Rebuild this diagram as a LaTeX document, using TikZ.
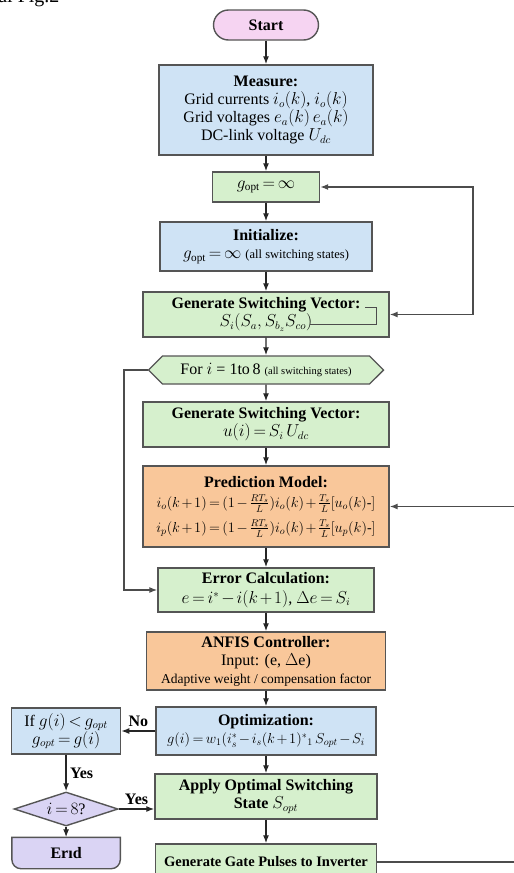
\documentclass[tikz,border=0pt]{standalone}
\usepackage{amsmath}
\usepackage{fontspec}
\setmainfont{Liberation Serif}
\usetikzlibrary{arrows.meta,backgrounds,positioning,shapes.geometric,shapes.symbols}
\definecolor{fcblue}{RGB}{207,227,245}
\definecolor{fcgreen}{RGB}{214,240,205}
\definecolor{fcorange}{RGB}{249,199,154}
\definecolor{fcpink}{RGB}{246,212,242}
\definecolor{fcviolet}{RGB}{218,212,244}
\definecolor{fcline}{RGB}{85,85,85}
\AtBeginDocument{\medmuskip=2mu plus 1mu\thickmuskip=3mu plus 2mu}

\begin{document}
\begin{tikzpicture}[x=1pt,y=1pt,>={Latex[length=8pt,width=6pt]},
    font=\fontsize{16}{18}\selectfont,
    box/.style={draw=fcline,line width=1.4pt,align=center,inner sep=2pt},
    flow/.style={->,line width=1.3pt,draw=black!85},
    loopline/.style={line width=1.3pt,draw=black!70}]
  \useasboundingbox (0,0) rectangle (514,-873);
  \coordinate (rim) at (514,0);
  \coordinate (rp) at (473,0);
  \coordinate (lp) at (124,0);
  \node[anchor=base east,font=\fontsize{20}{24}\selectfont] (figref) at (63,-2) {al Fig.2};
  % main column
  \node[box,fill=fcpink,rounded corners=15pt,minimum width=105pt,minimum height=30pt] (start) at (266,-25) {\textbf{Start}};
  \node[box,fill=fcblue,minimum width=214pt,minimum height=90pt,below=23.6pt of start] (measure)
    {\textbf{Measure:}\\Grid currents $i_o(k)$, $i_o(k)$\\Grid voltages $e_a(k)\,e_a(k)$\\DC-link voltage $U_{dc}$};
  \node[box,fill=fcgreen,minimum width=107pt,minimum height=30pt,below=15.6pt of measure] (gopt) {$g_{\mathrm{opt}}=\infty$};
  \node[box,fill=fcblue,minimum width=212pt,minimum height=49pt,below=18.6pt of gopt] (init)
    {\textbf{Initialize:}\\$g_{\mathrm{opt}}=\infty$ {\fontsize{12.5}{14}\selectfont (all switching states)}};
  \node[box,fill=fcgreen,minimum width=246pt,minimum height=45pt,below=19.6pt of init] (gsv)
    {\textbf{Generate Switching Vector:}\\$S_i(S_a,S_{b_z}S_{co})$};
  \node[box,fill=fcgreen,signal,signal to=east and west,minimum width=235pt,minimum height=28pt,below=17.6pt of gsv] (hex)
    {For $i$ = 1to\,8 {\fontsize{10.5}{12}\selectfont (all switching states)}};
  \node[box,fill=fcgreen,minimum width=246pt,minimum height=45pt,below=16.6pt of hex] (gsv2)
    {\textbf{Generate Switching Vector:}\\$u(i)=S_i\,U_{dc}$};
  \node[box,fill=fcorange,minimum width=246pt,minimum height=81pt,below=17.6pt of gsv2] (pred)
    {\textbf{Prediction Model:}\\[2pt]
     {\fontsize{14}{16}\selectfont $i_o(k+1)=(1-\frac{RT_s}{L})i_o(k)+\frac{T_s}{L}[u_o(k)\mbox{-}]$}\\[7pt]
     {\fontsize{14}{16}\selectfont $i_p(k+1)=(1-\frac{RT_s}{L})i_o(k)+\frac{T_s}{L}[u_p(k)\mbox{-}]$}};
  \node[box,fill=fcgreen,minimum width=216pt,minimum height=44pt,below=19.6pt of pred] (err)
    {\textbf{Error Calculation:}\\[2pt]$e=i^{*}-i(k+1)$, $\Delta e=S_i$};
  \node[box,fill=fcorange,minimum width=239pt,minimum height=58pt,below=18.6pt of err] (anfis)
    {\textbf{ANFIS Controller:}\\Input: (e, $\Delta$e)\\{\fontsize{13.5}{16}\selectfont Adaptive weight / compensation factor}};
  \node[box,fill=fcblue,minimum width=220pt,minimum height=48pt,below=15.6pt of anfis] (opt)
    {\textbf{Optimization:}\\{\fontsize{14}{16}\selectfont $g(i)=w_1(i_s^{*}-i_s(k+1)^{*}{}_1\,S_{opt}-S_i$}};
  \node[box,fill=fcgreen,minimum width=222pt,minimum height=45pt,below=17.6pt of opt] (apply)
    {\textbf{Apply Optimal Switching}\\\textbf{State} $S_{opt}$};
  \node[box,fill=fcgreen,minimum width=221pt,minimum height=36pt,below=23.6pt of apply] (gate)
    {\fontsize{14.5}{16}\selectfont\bfseries Generate Gate Pulses to Inverter};
  % left branch
  \node[box,fill=fcblue,minimum width=109pt,minimum height=46pt,left=34pt of opt] (ifb)
    {If $g(i)<g_{opt}$\\$g_{opt}=g(i)$};
  \node[box,fill=fcviolet,diamond,aspect=3,minimum width=104pt,minimum height=34pt,below=36.6pt of ifb] (dec) {$i=8$?};
  \node[align=center,minimum width=108pt,minimum height=31pt,below=10.6pt of dec] (endb) {\textbf{Erıd}};
  \begin{scope}[on background layer]
    \draw[draw=fcline,fill=fcviolet,line width=1.4pt] (endb.north west) -- (endb.north east)
      -- ([yshift=9pt]endb.south east) arc[start angle=0,end angle=-90,radius=9pt]
      -- ([xshift=9pt]endb.south west) arc[start angle=270,end angle=180,radius=9pt] -- cycle;
  \end{scope}
  % bracket inside the vector box
  \draw[loopline,line width=1pt] ([shift={(99,7.5)}]gsv.center) -- ([shift={(110,7.5)}]gsv.center)
    -- ([shift={(110,-9.5)}]gsv.center) -- ([shift={(44,-9.5)}]gsv.center);
  % connectors
  \draw[flow] (start) -- (measure);
  \draw[flow] (measure) -- (gopt);
  \draw[flow] (gopt) -- (init);
  \draw[flow] (init) -- (gsv);
  \draw[flow] (gsv) -- (hex);
  \draw[flow] (hex) -- (gsv2);
  \draw[flow] (gsv2) -- (pred);
  \draw[flow] (pred) -- (err);
  \draw[flow] (err) -- (anfis);
  \draw[flow] (anfis) -- (opt);
  \draw[flow] (opt) -- (apply);
  \draw[flow] (apply) -- (gate);
  \draw[flow] (opt.west) -- node[above]{\textbf{No}} (ifb.east);
  \draw[flow] (ifb.south) -- node[right]{\textbf{Yes}} (dec.north);
  \draw[flow] (dec.east) -- node[above]{\textbf{Yes}} (dec.east -| apply.west);
  \draw[flow] (dec.south) -- (endb.north);
  \draw[loopline,<->] (gopt.east) -- (gopt.east -| rp) |- (gsv.east);
  \draw[loopline,->] (hex.west) -- (hex.west -| lp) |- (err.west);
  \draw[loopline,->] (rim |- pred.east) -- (pred.east);
  \draw[loopline] (gate.east) -- (gate.east -| rim);
\end{tikzpicture}
\end{document}
